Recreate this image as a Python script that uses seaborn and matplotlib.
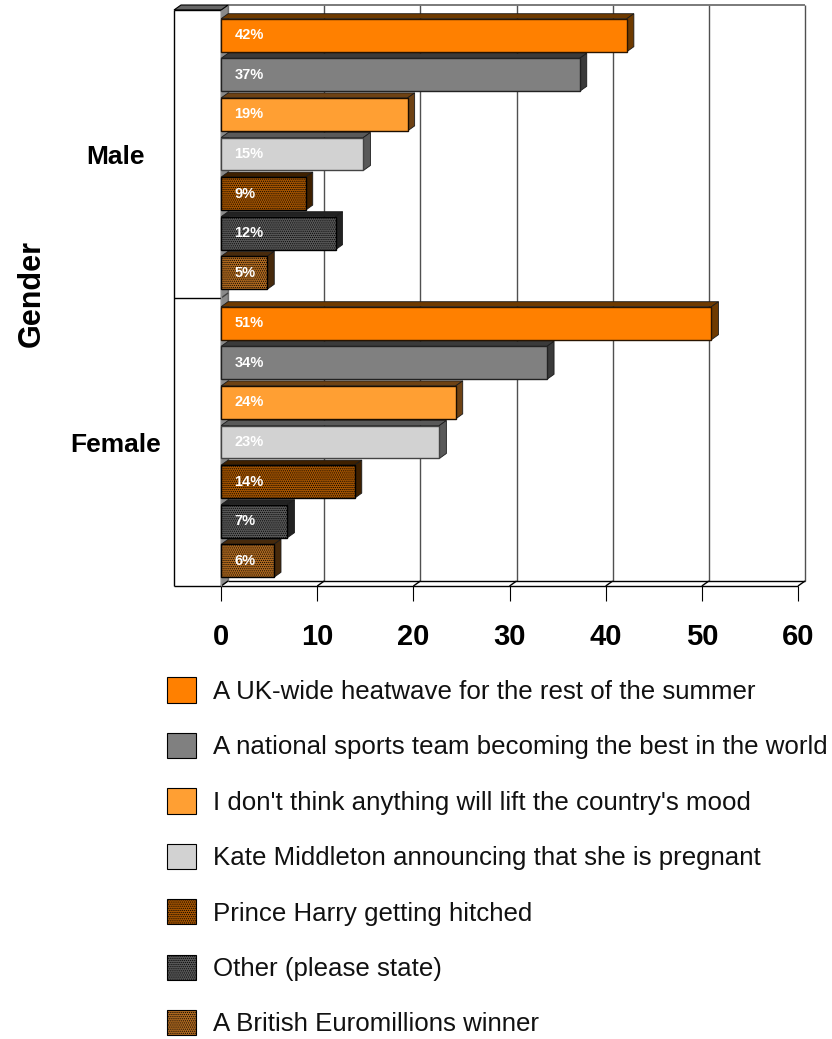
import matplotlib
matplotlib.use("Agg")
import matplotlib.pyplot as plt
import seaborn as sns
import pandas as pd
from matplotlib.patches import Polygon, Patch
from matplotlib.lines import Line2D

genders = ["Male", "Female"]
answers = ["A UK-wide heatwave for the rest of the summer",
           "A national sports team becoming the best in the world",
           "I don't think anything will lift the country's mood",
           "Kate Middleton announcing that she is pregnant",
           "Prince Harry getting hitched",
           "Other (please state)",
           "A British Euromillions winner"]
male_values = [42.2, 37.3, 19.4, 14.8, 8.8, 11.9, 4.8]
female_values = [51.0, 33.9, 24.4, 22.7, 13.9, 6.9, 5.5]
male_labels = ["42%", "37%", "19%", "15%", "9%", "12%", "5%"]
female_labels = ["51%", "34%", "24%", "23%", "14%", "7%", "6%"]
face_colors = ["#FF8000", "#808080", "#FF9F33", "#D2D2D2", "#A55400", "#585858", "#AD681F"]
depth_colors = ["#6E3A00", "#3A3A3A", "#6E4214", "#595959", "#3E2000", "#222222", "#472A0C"]
hatches = ["", "", "", "", "........", "........", "........"]
edge_colors = ["#2a1500", "#222222", "#1a0d00", "#444444", "#000000", "#000000", "#000000"]

plt.rcParams["font.family"] = ["Liberation Sans", "DejaVu Sans"]
plt.rcParams["hatch.linewidth"] = 0.5
sns.set_style("white")
plt.rcParams["font.family"] = ["Liberation Sans", "DejaVu Sans"]

W, H = 832, 1039
fig = plt.figure(figsize=(W / 100, H / 100), dpi=100)
ax = fig.add_axes([174 / W, 1 - 586 / H, 624 / W, 576 / H])

df = pd.DataFrame({
    "Gender": [g for g in genders for _ in answers],
    "Answer": answers * 2,
    "Value": male_values + female_values,
})
sns.barplot(data=df, y="Gender", x="Value", hue="Answer", hue_order=answers, order=genders,
            palette=dict(zip(answers, face_colors)), saturation=1, orient="y",
            width=0.9625, gap=0.167, legend=False, ax=ax, zorder=5)

XMIN, XMAX = -4.9, 60
ax.set_xlim(XMIN, XMAX)
ax.set_ylim(1.5, -0.5)
dx = 7 / (624 / (XMAX - XMIN))
dy = 5 / 288
ylo, yhi = 1.5, -0.5
tick_vals = list(range(0, 61, 10))


def line(xs, ys, color="black", lw=1.0, z=1):
    ax.add_line(Line2D(xs, ys, color=color, lw=lw, zorder=z, clip_on=False,
                       solid_capstyle="butt"))


# back wall, floor and gridlines of the 3-D box
for t in tick_vals:
    line([t + dx, t + dx], [ylo - dy, yhi - dy], "#505050" if t else "#808080")
    line([t, t + dx], [ylo, ylo - dy], "black", 1.0, 3)
line([dx, XMAX + dx], [yhi - dy, yhi - dy], "#707070", 1.3)
line([dx, XMAX + dx], [ylo - dy, ylo - dy], "black", 1.0, 3)
line([XMIN, XMAX], [ylo, ylo], "black", 1.0, 3)
ax.add_patch(Polygon([(0, ylo), (dx, ylo - dy), (dx, yhi - dy), (0, yhi)],
                     facecolor="#8A8A8A", edgecolor="#606060", lw=0.6, zorder=2, clip_on=False))
ax.add_patch(Polygon([(XMIN, yhi), (XMIN + dx, yhi - dy), (dx, yhi - dy), (0, yhi)],
                     facecolor="#666666", edgecolor="black", lw=0.8, zorder=2, clip_on=False))
# left plane
line([XMIN, XMIN], [ylo, yhi], "black", 1.0, 3)
line([XMIN, 0], [yhi, yhi], "black", 1.0, 3)
line([XMIN, 0], [0.5, 0.5], "black", 1.0, 3)
line([0, dx], [0.5, 0.5 - dy], "#404040", 1.0, 3)
line([0, 0], [ylo, yhi], "#909090", 1.0, 3)

# bars: hatch, edge, depth faces and value labels
labels_all = [male_labels, female_labels]
for i, cont in enumerate(ax.containers):
    for j, bar in enumerate(cont):
        bar.set_edgecolor(edge_colors[i])
        bar.set_linewidth(1.0)
        bar.set_hatch(hatches[i])
        x1 = bar.get_x() + bar.get_width()
        y0, h = bar.get_y(), bar.get_height()
        yt, yb = min(y0, y0 + h), max(y0, y0 + h)
        ax.add_patch(Polygon([(0, yt), (dx, yt - dy), (x1 + dx, yt - dy), (x1, yt)],
                             facecolor=depth_colors[i], edgecolor="#1a1a1a", lw=0.6, zorder=4,
                             clip_on=False))
        ax.add_patch(Polygon([(x1, yt), (x1 + dx, yt - dy), (x1 + dx, yb - dy), (x1, yb)],
                             facecolor=depth_colors[i], edgecolor="#1a1a1a", lw=0.6, zorder=4,
                             clip_on=False))
        ax.text(1.4, (yt + yb) / 2, labels_all[j][i], color="white", fontsize=10.5,
                fontweight="bold", ha="left", va="center", zorder=6)

sns.despine(ax=ax, left=True, bottom=True, top=True, right=True)
ax.set_xticks(tick_vals)
ax.set_xticklabels([str(t) for t in tick_vals], fontsize=21, fontweight="bold", color="black")
ax.tick_params(axis="x", bottom=True, length=10.8, width=0.8, color="black", pad=16)
ax.set_yticks([0, 1])
ax.set_yticklabels(genders, fontsize=19, fontweight="bold", ha="center", color="black")
ax.tick_params(axis="y", left=False, pad=38.3)
ax.set_xlabel("")
ax.set_ylabel("Gender", fontsize=22, fontweight="bold", color="black")
ax.yaxis.set_label_coords((47 - 174) / 624, 0.508)

handles = [Patch(facecolor=c, edgecolor="black", hatch=h, lw=0.8)
           for c, h in zip(face_colors, hatches)]
fig.legend(handles, answers, loc="upper left", bbox_to_anchor=(167 / W, 1 - 677.5 / H),
           frameon=False, fontsize=18.65, handlelength=1.12, handleheight=1.12, handletextpad=0.65,
           labelspacing=1.12, borderpad=0, borderaxespad=0, labelcolor="#111111")

fig.savefig("out.png", dpi=100)
